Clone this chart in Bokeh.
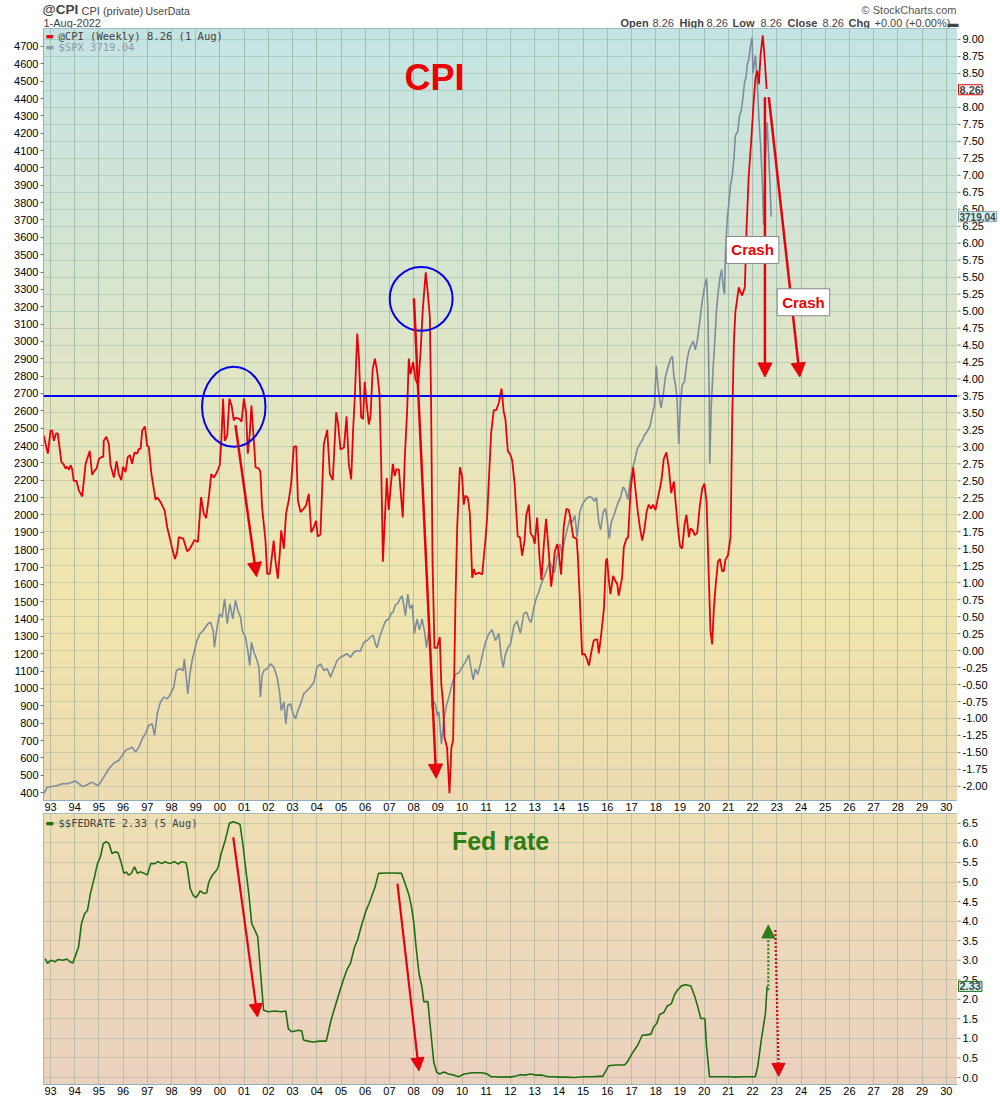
import numpy as np
from bokeh.plotting import figure
from bokeh.models import (Range1d, FixedTicker, Label, Arrow, NormalHead,
                          Span, Grid)
from bokeh.layouts import column, row
from bokeh.core.properties import value
from bokeh.embed import file_html
from bokeh.resources import INLINE

# ---------------- data ----------------
cpi_year = [1992.72, 1992.89, 1993.00, 1993.07, 1993.14, 1993.23, 1993.30, 1993.45, 1993.55, 1993.62,
            1993.69, 1993.76, 1993.83, 1993.89, 1993.96, 1994.07, 1994.17, 1994.31, 1994.45, 1994.62,
            1994.72, 1994.82, 1994.90, 1995.00, 1995.09, 1995.18, 1995.20, 1995.31, 1995.41, 1995.48,
            1995.62, 1995.73, 1995.82, 1995.92, 1996.00, 1996.10, 1996.19, 1996.28, 1996.37, 1996.47,
            1996.58, 1996.65, 1996.72, 1996.79, 1996.90, 1996.99, 1997.06, 1997.17, 1997.34, 1997.41,
            1997.54, 1997.71, 1997.82, 1998.03, 1998.14, 1998.23, 1998.30, 1998.48, 1998.65, 1998.76,
            1998.95, 1999.09, 1999.22, 1999.33, 1999.43, 1999.54, 1999.64, 1999.75, 1999.88, 1999.99,
            2000.05, 2000.13, 2000.20, 2000.30, 2000.39, 2000.48, 2000.57, 2000.64, 2000.82, 2000.89,
            2000.99, 2001.08, 2001.15, 2001.23, 2001.30, 2001.40, 2001.47, 2001.61, 2001.67, 2001.74,
            2001.88, 2001.95, 2002.06, 2002.22, 2002.29, 2002.39, 2002.47, 2002.53, 2002.64, 2002.73,
            2002.84, 2002.94, 2003.05, 2003.15, 2003.22, 2003.33, 2003.46, 2003.56, 2003.67, 2003.77,
            2003.88, 2003.97, 2004.04, 2004.15, 2004.29, 2004.43, 2004.54, 2004.66, 2004.80, 2004.88,
            2004.98, 2005.12, 2005.23, 2005.32, 2005.42, 2005.50, 2005.57, 2005.67, 2005.74, 2005.83,
            2005.91, 2005.98, 2006.05, 2006.15, 2006.22, 2006.31, 2006.40, 2006.49, 2006.59, 2006.66,
            2006.73, 2006.81, 2006.89, 2006.97, 2007.04, 2007.14, 2007.22, 2007.29, 2007.39, 2007.46,
            2007.55, 2007.64, 2007.73, 2007.80, 2007.87, 2007.98, 2008.08, 2008.19, 2008.28, 2008.38,
            2008.50, 2008.59, 2008.67, 2008.72, 2008.78, 2008.86, 2008.97, 2009.08, 2009.14, 2009.22,
            2009.27, 2009.38, 2009.48, 2009.56, 2009.63, 2009.73, 2009.80, 2009.91, 2010.00, 2010.07,
            2010.14, 2010.24, 2010.32, 2010.42, 2010.49, 2010.55, 2010.69, 2010.83, 2010.97, 2011.04,
            2011.10, 2011.20, 2011.31, 2011.41, 2011.52, 2011.63, 2011.72, 2011.79, 2011.89, 2012.00,
            2012.07, 2012.17, 2012.30, 2012.39, 2012.48, 2012.58, 2012.65, 2012.76, 2012.83, 2012.94,
            2013.00, 2013.10, 2013.20, 2013.28, 2013.38, 2013.47, 2013.58, 2013.68, 2013.75, 2013.83,
            2013.93, 2013.99, 2014.09, 2014.20, 2014.31, 2014.41, 2014.48, 2014.59, 2014.73, 2014.78,
            2014.86, 2014.96, 2015.06, 2015.14, 2015.24, 2015.33, 2015.44, 2015.58, 2015.65, 2015.75,
            2015.86, 2015.94, 2015.99, 2016.06, 2016.13, 2016.24, 2016.34, 2016.41, 2016.47, 2016.61,
            2016.68, 2016.79, 2016.86, 2016.96, 2017.07, 2017.16, 2017.26, 2017.34, 2017.44, 2017.53,
            2017.62, 2017.71, 2017.81, 2017.89, 2017.99, 2018.09, 2018.20, 2018.24, 2018.33, 2018.44,
            2018.54, 2018.64, 2018.75, 2018.82, 2018.91, 2019.00, 2019.09, 2019.19, 2019.27, 2019.37,
            2019.44, 2019.53, 2019.61, 2019.71, 2019.82, 2019.92, 2020.01, 2020.10, 2020.17, 2020.26,
            2020.33, 2020.40, 2020.47, 2020.57, 2020.65, 2020.74, 2020.81, 2020.88, 2020.98, 2021.09,
            2021.16, 2021.23, 2021.29, 2021.43, 2021.50, 2021.57, 2021.68, 2021.75, 2021.84, 2021.94,
            2022.05, 2022.12, 2022.19, 2022.26, 2022.33, 2022.42, 2022.49, 2022.58]
cpi_val = [3.17, 2.90, 3.24, 3.24, 3.09, 3.20, 3.20, 2.78, 2.74, 2.68,
           2.71, 2.66, 2.73, 2.68, 2.50, 2.50, 2.36, 2.27, 2.75, 2.94,
           2.59, 2.65, 2.68, 2.82, 2.85, 2.85, 3.09, 3.15, 3.04, 2.73,
           2.55, 2.79, 2.60, 2.51, 2.71, 2.63, 2.85, 2.88, 2.75, 2.92,
           2.90, 2.97, 2.97, 3.24, 3.30, 3.02, 3.00, 2.60, 2.22, 2.26,
           2.19, 2.07, 1.82, 1.50, 1.35, 1.45, 1.67, 1.65, 1.46, 1.50,
           1.63, 1.60, 2.26, 2.02, 1.95, 2.26, 2.60, 2.55, 2.63, 2.73,
           3.04, 3.71, 3.09, 3.17, 3.71, 3.61, 3.39, 3.43, 3.41, 3.37,
           3.71, 3.51, 2.90, 3.19, 3.61, 3.09, 2.70, 2.68, 2.63, 2.11,
           1.62, 1.13, 1.13, 1.62, 1.33, 1.06, 1.43, 1.77, 1.50, 2.02,
           2.21, 2.46, 3.00, 3.01, 2.21, 2.04, 2.09, 2.14, 2.31, 1.74,
           1.82, 1.91, 1.68, 1.71, 3.04, 3.25, 2.60, 2.51, 3.51, 3.34,
           2.96, 2.99, 3.45, 2.75, 2.52, 3.25, 3.73, 4.67, 4.30, 3.44,
           3.41, 3.96, 3.67, 3.33, 3.46, 4.15, 4.30, 4.12, 3.78, 2.73,
           1.31, 1.94, 2.54, 2.07, 2.36, 2.75, 2.57, 2.67, 2.67, 2.36,
           1.96, 2.88, 3.52, 4.30, 4.07, 4.25, 3.99, 3.91, 4.36, 5.04,
           5.57, 5.25, 4.91, 3.67, 1.31, 0.04, 0.04, 0.20, -0.48, -0.80,
           -1.27, -1.43, -2.10, -1.43, -1.32, 0.78, 1.83, 2.70, 2.57, 2.15,
           2.28, 2.25, 2.02, 1.07, 1.20, 1.12, 1.15, 1.12, 1.65, 1.99,
           2.46, 3.20, 3.54, 3.54, 3.65, 3.86, 3.52, 3.41, 2.94, 2.88,
           2.80, 2.46, 1.68, 1.67, 1.40, 1.62, 1.99, 2.15, 1.73, 1.67,
           1.57, 1.96, 1.36, 1.04, 1.57, 1.94, 1.46, 0.94, 1.15, 1.46,
           1.57, 1.46, 1.12, 1.83, 2.09, 2.07, 1.94, 1.67, 1.65, 1.41,
           0.78, -0.06, -0.05, -0.11, -0.22, -0.04, 0.15, 0.17, -0.04, 0.25,
           0.62, 1.31, 1.36, 1.04, 0.83, 1.10, 1.02, 0.98, 0.81, 1.07,
           1.52, 1.65, 1.67, 2.36, 2.70, 2.38, 2.04, 1.83, 1.62, 1.78,
           2.04, 2.15, 2.09, 2.15, 2.07, 2.25, 2.44, 2.52, 2.82, 2.92,
           2.69, 2.32, 2.49, 2.19, 1.83, 1.54, 1.50, 1.86, 2.00, 1.67,
           1.80, 1.77, 1.70, 1.73, 2.13, 2.39, 2.46, 2.19, 1.34, 0.29,
           0.09, 0.62, 0.94, 1.31, 1.35, 1.17, 1.17, 1.34, 1.40, 1.67,
           3.44, 4.56, 4.99, 5.35, 5.28, 5.23, 5.35, 6.20, 6.99, 7.49,
           8.11, 8.44, 8.54, 8.34, 8.77, 9.06, 8.77, 8.27]

spx_year = [1992.72, 1992.86, 1993.07, 1993.28, 1993.48, 1993.69, 1993.89, 1994.03, 1994.17, 1994.31,
            1994.45, 1994.58, 1994.72, 1994.86, 1994.96, 1995.07, 1995.20, 1995.41, 1995.62, 1995.82,
            1995.96, 1996.10, 1996.24, 1996.37, 1996.51, 1996.65, 1996.79, 1996.92, 1997.06, 1997.20,
            1997.30, 1997.41, 1997.54, 1997.68, 1997.82, 1997.96, 1998.09, 1998.20, 1998.34, 1998.48,
            1998.53, 1998.62, 1998.67, 1998.76, 1998.85, 1998.95, 1999.03, 1999.17, 1999.31, 1999.40,
            1999.50, 1999.61, 1999.72, 1999.77, 1999.88, 1999.98, 2000.09, 2000.19, 2000.30, 2000.41,
            2000.53, 2000.64, 2000.74, 2000.85, 2000.92, 2001.05, 2001.15, 2001.23, 2001.30, 2001.40,
            2001.51, 2001.61, 2001.67, 2001.74, 2001.81, 2001.95, 2002.09, 2002.22, 2002.36, 2002.47,
            2002.53, 2002.64, 2002.72, 2002.80, 2002.91, 2003.02, 2003.12, 2003.22, 2003.33, 2003.46,
            2003.60, 2003.74, 2003.88, 2004.01, 2004.15, 2004.29, 2004.43, 2004.57, 2004.70, 2004.84,
            2004.98, 2005.12, 2005.25, 2005.39, 2005.53, 2005.67, 2005.80, 2005.94, 2006.08, 2006.22,
            2006.33, 2006.42, 2006.49, 2006.60, 2006.70, 2006.84, 2006.97, 2007.07, 2007.15, 2007.25,
            2007.35, 2007.46, 2007.52, 2007.59, 2007.66, 2007.76, 2007.84, 2007.94, 2008.03, 2008.14,
            2008.24, 2008.35, 2008.45, 2008.53, 2008.63, 2008.70, 2008.76, 2008.83, 2008.90, 2008.97,
            2009.04, 2009.15, 2009.25, 2009.36, 2009.45, 2009.59, 2009.73, 2009.87, 2010.00, 2010.14,
            2010.28, 2010.35, 2010.46, 2010.55, 2010.65, 2010.76, 2010.87, 2010.97, 2011.11, 2011.24,
            2011.38, 2011.52, 2011.61, 2011.70, 2011.79, 2011.89, 2012.00, 2012.14, 2012.27, 2012.41,
            2012.55, 2012.66, 2012.76, 2012.85, 2012.96, 2013.07, 2013.17, 2013.28, 2013.40, 2013.51,
            2013.62, 2013.72, 2013.82, 2013.93, 2014.04, 2014.13, 2014.23, 2014.34, 2014.45, 2014.55,
            2014.66, 2014.75, 2014.86, 2014.96, 2015.10, 2015.24, 2015.37, 2015.47, 2015.55, 2015.65,
            2015.72, 2015.83, 2015.92, 2015.99, 2016.08, 2016.16, 2016.27, 2016.41, 2016.54, 2016.65,
            2016.75, 2016.85, 2016.93, 2017.03, 2017.12, 2017.23, 2017.34, 2017.44, 2017.53, 2017.64,
            2017.76, 2017.85, 2017.95, 2018.02, 2018.09, 2018.16, 2018.22, 2018.31, 2018.40, 2018.50,
            2018.61, 2018.69, 2018.75, 2018.82, 2018.88, 2018.95, 2019.02, 2019.09, 2019.19, 2019.30,
            2019.38, 2019.46, 2019.55, 2019.63, 2019.71, 2019.81, 2019.92, 2020.01, 2020.10, 2020.15,
            2020.21, 2020.23, 2020.29, 2020.37, 2020.44, 2020.51, 2020.58, 2020.65, 2020.72, 2020.79,
            2020.84, 2020.88, 2020.95, 2021.02, 2021.09, 2021.16, 2021.23, 2021.29, 2021.39, 2021.46,
            2021.53, 2021.60, 2021.67, 2021.73, 2021.78, 2021.84, 2021.91, 2021.98, 2022.02, 2022.08,
            2022.12, 2022.19, 2022.26, 2022.33, 2022.40, 2022.46, 2022.53, 2022.60, 2022.67, 2022.72,
            2022.77]
spx_val = [393, 431, 435, 441, 451, 451, 460, 466, 451, 435,
           441, 451, 460, 447, 441, 460, 489, 537, 570, 585,
           614, 643, 652, 662, 633, 662, 710, 739, 787, 796,
           729, 854, 921, 950, 940, 969, 1008, 1104, 1113, 1104,
           1171, 1046, 969, 1084, 1161, 1219, 1267, 1315, 1334, 1353,
           1373, 1382, 1334, 1238, 1353, 1430, 1411, 1517, 1373, 1488,
           1401, 1507, 1449, 1411, 1334, 1296, 1219, 1132, 1267, 1209,
           1171, 1123, 950, 1075, 1104, 1113, 1142, 1123, 1065, 969,
           873, 921, 796, 902, 912, 854, 825, 873, 912, 969,
           988, 1008, 1036, 1123, 1142, 1104, 1113, 1065, 1113, 1161,
           1180, 1190, 1200, 1180, 1209, 1219, 1214, 1266, 1276, 1297,
           1307, 1256, 1235, 1297, 1338, 1389, 1400, 1431, 1441, 1482,
           1492, 1523, 1533, 1482, 1420, 1544, 1461, 1482, 1317, 1400,
           1338, 1400, 1328, 1235, 1338, 1214, 885, 926, 906, 844,
           865, 679, 823, 906, 947, 1029, 1081, 1091, 1122, 1153,
           1194, 1132, 1050, 1112, 1081, 1142, 1214, 1266, 1317, 1338,
           1276, 1317, 1194, 1122, 1194, 1235, 1256, 1359, 1389, 1317,
           1431, 1441, 1400, 1379, 1462, 1523, 1554, 1606, 1647, 1688,
           1729, 1698, 1667, 1770, 1832, 1770, 1853, 1914, 1976, 1956,
           1997, 1873, 2017, 2058, 2089, 2104, 2100, 2079, 2100, 1956,
           1914, 2017, 2038, 1976, 1863, 1956, 1997, 2058, 2100, 2161,
           2141, 2089, 2182, 2264, 2306, 2378, 2408, 2429, 2460, 2480,
           2511, 2573, 2635, 2861, 2745, 2668, 2617, 2694, 2797, 2848,
           2900, 2913, 2797, 2745, 2668, 2411, 2642, 2745, 2771, 2900,
           2951, 2977, 3002, 2951, 3002, 3105, 3234, 3311, 3363, 3208,
           2668, 2295, 2617, 2848, 3002, 3183, 3286, 3363, 3414, 3311,
           3273, 3517, 3697, 3800, 3903, 3955, 4057, 4186, 4212, 4302,
           4328, 4405, 4495, 4521, 4598, 4623, 4701, 4752, 4546, 4611,
           4649, 4495, 4289, 4135, 3929, 3672, 4057, 4263, 4057, 3903,
           3719]

fed_year = [1992.78, 1992.88, 1993.02, 1993.19, 1993.31, 1993.51, 1993.68, 1993.80, 1993.92, 1994.04,
            1994.16, 1994.28, 1994.41, 1994.53, 1994.65, 1994.82, 1994.94, 1995.06, 1995.18, 1995.30,
            1995.42, 1995.54, 1995.67, 1995.79, 1995.91, 1996.03, 1996.13, 1996.22, 1996.34, 1996.47,
            1996.59, 1996.71, 1996.88, 1997.00, 1997.14, 1997.31, 1997.44, 1997.61, 1997.73, 1997.92,
            1998.11, 1998.28, 1998.41, 1998.60, 1998.65, 1998.77, 1998.89, 1999.01, 1999.08, 1999.18,
            1999.33, 1999.45, 1999.54, 1999.69, 1999.86, 1999.93, 2000.05, 2000.22, 2000.39, 2000.54,
            2000.71, 2000.83, 2000.95, 2001.07, 2001.19, 2001.31, 2001.44, 2001.56, 2001.68, 2001.80,
            2001.99, 2002.28, 2002.53, 2002.72, 2002.82, 2002.96, 2003.25, 2003.38, 2003.45, 2003.62,
            2003.86, 2004.10, 2004.39, 2004.59, 2004.71, 2004.90, 2005.07, 2005.24, 2005.39, 2005.56,
            2005.68, 2005.87, 2006.04, 2006.16, 2006.41, 2006.55, 2006.89, 2007.21, 2007.50, 2007.67,
            2007.81, 2007.91, 2008.01, 2008.10, 2008.22, 2008.34, 2008.42, 2008.59, 2008.66, 2008.83,
            2008.95, 2009.07, 2009.27, 2009.44, 2009.68, 2009.85, 2010.09, 2010.41, 2010.77, 2011.01,
            2011.20, 2011.37, 2011.62, 2011.79, 2011.98, 2012.22, 2012.42, 2012.59, 2012.83, 2013.07,
            2013.31, 2013.56, 2013.80, 2014.04, 2014.28, 2014.65, 2015.01, 2015.38, 2015.62, 2015.81,
            2015.91, 2016.05, 2016.34, 2016.71, 2016.83, 2017.02, 2017.26, 2017.44, 2017.61, 2017.80,
            2017.92, 2018.04, 2018.16, 2018.33, 2018.48, 2018.65, 2018.77, 2018.89, 2019.08, 2019.25,
            2019.45, 2019.62, 2019.74, 2019.86, 2020.03, 2020.10, 2020.22, 2020.42, 2020.71, 2021.07,
            2021.26, 2021.56, 2021.92, 2022.11, 2022.21, 2022.36, 2022.53, 2022.60]
fed_val = [3.04, 2.92, 3.00, 2.96, 3.02, 3.00, 3.03, 2.96, 2.93, 3.13,
           3.34, 3.94, 4.19, 4.28, 4.71, 5.13, 5.47, 5.64, 5.98, 6.03,
           5.98, 5.73, 5.77, 5.75, 5.52, 5.22, 5.26, 5.18, 5.22, 5.39,
           5.22, 5.26, 5.22, 5.18, 5.47, 5.47, 5.52, 5.47, 5.52, 5.47,
           5.52, 5.46, 5.52, 5.49, 5.35, 4.83, 4.66, 4.60, 4.66, 4.77,
           4.71, 4.72, 5.00, 5.18, 5.30, 5.39, 5.73, 6.07, 6.50, 6.54,
           6.51, 6.47, 5.94, 5.30, 4.71, 3.94, 3.77, 3.60, 2.66, 1.72,
           1.68, 1.70, 1.68, 1.70, 1.25, 1.17, 1.21, 1.19, 0.96, 0.93,
           0.91, 0.93, 0.93, 1.47, 1.72, 2.11, 2.45, 2.75, 2.92, 3.34,
           3.51, 3.94, 4.28, 4.45, 4.88, 5.22, 5.23, 5.23, 5.22, 4.92,
           4.66, 4.37, 3.94, 3.34, 2.66, 2.32, 1.94, 1.94, 1.47, 0.40,
           0.14, 0.09, 0.14, 0.09, 0.06, 0.02, 0.09, 0.12, 0.12, 0.10,
           0.02, 0.02, 0.01, 0.02, 0.01, 0.04, 0.07, 0.06, 0.09, 0.06,
           0.06, 0.02, 0.02, 0.01, 0.01, 0.00, 0.02, 0.02, 0.03, 0.03,
           0.14, 0.30, 0.32, 0.32, 0.40, 0.61, 0.83, 1.08, 1.09, 1.11,
           1.30, 1.38, 1.61, 1.66, 1.83, 1.89, 2.11, 2.23, 2.35, 2.37,
           2.34, 2.06, 1.80, 1.51, 1.51, 0.78, 0.02, 0.02, 0.02, 0.02,
           0.01, 0.02, 0.02, 0.02, 0.27, 0.96, 1.64, 2.33]

year_ticks = list(range(1993, 2031))
spx_ticks = list(range(400, 4701, 100))
cpi_ticks = [round(-2 + 0.25 * i, 2) for i in range(45)]
fed_ticks = [round(0.5 * i, 1) for i in range(14)]

# ---------------- layout constants ----------------
X0, X1 = 1992.711, 2030.464
SPX0, SPX1 = 354.2, 4803.7
CPI0, CPI1 = -2.208, 9.162
FED0, FED1 = -0.179, 6.752
FONT = "Liberation Sans"
MONO = "DejaVu Sans Mono"
RED = "#e8000b"
GRID = "#86a391"
BORDER = "#93b0bf"
TOP_H = 772
BOT_H = 271
STRIP_W = 43


def gradient(stops, n=240):
    pos = np.array([s[0] for s in stops])
    cols = np.array([s[1] for s in stops], dtype=float)
    t = np.linspace(1, 0, n)  # row 0 = bottom
    img = np.empty((n, 1), dtype=np.uint32)
    v = img.view(dtype=np.uint8).reshape((n, 1, 4))
    for c in range(3):
        v[:, 0, c] = np.interp(t, pos, cols[:, c]).astype(np.uint8)
    v[:, 0, 3] = 255
    return img


def style_axis(ax):
    ax.major_label_text_font = FONT
    ax.major_label_text_font_size = "11px"
    ax.major_label_text_color = "#000000"
    ax.axis_line_color = BORDER
    ax.major_tick_line_color = "#777777"
    ax.minor_tick_line_color = None
    ax.major_tick_in = 0


def style_xaxis(ax):
    style_axis(ax)
    ax.ticker = FixedTicker(ticks=year_ticks)
    ax.major_label_overrides = {y: "%02d" % (y % 100) for y in year_ticks}
    ax.major_tick_out = 0
    ax.major_label_standoff = 2


def frame_label(fig, yend, ytop_px, px, py, text, **kw):
    """Text placed relative to the top-left corner of a frame (pixel offsets)."""
    kw.setdefault("text_font", FONT)
    kw.setdefault("text_font_size", "11px")
    kw.setdefault("text_baseline", "middle")
    fig.add_layout(Label(x=X0, y=yend, x_offset=px - 43, y_offset=-(py - ytop_px),
                         text=text, **kw))


# ---------------- header strip ----------------
hdr = figure(width=1000, height=28, x_range=Range1d(0, 1000), y_range=Range1d(28, 0),
             x_axis_type=None, y_axis_type=None, output_backend="svg", toolbar_location=None,
             min_border_left=0, min_border_right=0, min_border_top=0, min_border_bottom=0,
             background_fill_color="#ffffff", border_fill_color="#ffffff")
hdr.outline_line_color = None
hdr.xgrid.visible = False
hdr.ygrid.visible = False


def hlabel(px, py, text, **kw):
    kw.setdefault("text_font", FONT)
    kw.setdefault("text_font_size", "11px")
    kw.setdefault("text_baseline", "middle")
    hdr.add_layout(Label(x=px, y=py, text=text, **kw))


hlabel(42, 9, "@CPI", text_font_style="bold", text_font_size="13.5px")
hlabel(81, 10, "CPI (private)", text_font_size="11px")
hlabel(145, 10, "UserData", text_font_size="10.5px")
hlabel(43, 22, "1-Aug-2022")
hlabel(956, 9, "\u00a9 StockCharts.com", text_align="right", text_color="#555555")
hdr_parts = [(620, "Open", "bold"), (652, "8.26", "normal"), (679, "High", "bold"),
             (706, "8.26", "normal"), (732, "Low", "bold"), (760, "8.26", "normal"),
             (787, "Close", "bold"), (822, "8.26", "normal"), (848, "Chg", "bold"),
             (874, "+0.00 (+0.00%)", "normal"), (947, "\u25ac", "bold")]
for hx, htxt, hst in hdr_parts:
    hlabel(hx, 22, htxt, text_font_style=hst, text_font_size="11px")

# ---------------- top panel ----------------
p = figure(frame_width=914, frame_height=TOP_H, x_range=Range1d(X0, X1),
           y_range=Range1d(SPX0, SPX1), output_backend="svg", toolbar_location=None,
           min_border_left=43, min_border_right=0, min_border_top=0, min_border_bottom=13,
           background_fill_color="#ffffff", border_fill_color="#ffffff")
cpi_range = Range1d(CPI0, CPI1)
p.extra_y_ranges = {"cpi": cpi_range}
p.outline_line_color = BORDER

top_grad = gradient([(0.0, (196, 228, 228)), (0.3, (214, 229, 210)), (0.55, (232, 229, 188)),
                     (0.75, (241, 230, 174)), (1.0, (237, 219, 178))])
p.image_rgba(image=[top_grad], x=X0, y=SPX0, dw=X1 - X0, dh=SPX1 - SPX0, level="image")

style_xaxis(p.xaxis[0])
yl = p.yaxis[0]
style_axis(yl)
yl.ticker = FixedTicker(ticks=spx_ticks)
yl.major_tick_out = 3
yl.major_label_standoff = 2

p.xgrid.grid_line_color = GRID
p.xgrid.grid_line_alpha = 0.55
p.ygrid.visible = False
p.add_layout(Grid(dimension=1, ticker=FixedTicker(ticks=cpi_ticks), y_range_name="cpi",
                  grid_line_color=GRID, grid_line_alpha=0.35))

p.line(spx_year, spx_val, line_color="#7c8c9c", line_width=1.6)
p.line(cpi_year, cpi_val, line_color=RED, line_width=1.8, y_range_name="cpi")

p.add_layout(Span(location=3.75, dimension="width", y_range_name="cpi",
                  line_color="#0000ee", line_width=2))
p.ellipse(x=[2000.57, 2008.31], y=[3.59, 5.18], width=[2.62, 2.6], height=[1.18, 0.94],
          fill_color=None, line_color="#0000ee", line_width=2, y_range_name="cpi")

cpi_arrows = [(2000.64, 3.32, 2001.51, 1.09), (2008.01, 5.19, 2008.93, -1.88),
              (2022.51, 8.15, 2022.51, 4.03), (2022.67, 8.15, 2023.95, 4.03)]
for xs, ys, xe, ye in cpi_arrows:
    p.add_layout(Arrow(end=NormalHead(size=14, fill_color=RED, line_color=RED),
                       x_start=xs, y_start=ys, x_end=xe, y_end=ye, y_range_name="cpi",
                       line_color=RED, line_width=2.5))

p.add_layout(Label(x=2008.86, y=8.44, y_range_name="cpi", text="CPI", text_color="#ee0000",
                   text_font=FONT, text_font_style="bold", text_font_size="36px",
                   text_align="center", text_baseline="middle"))
for cx, cy in [(2022.0, 5.90), (2024.1, 5.13)]:
    p.add_layout(Label(x=cx, y=cy, y_range_name="cpi", text="Crash", text_color="#ee0000",
                       text_font=FONT, text_font_style="bold", text_font_size="15px",
                       text_align="center", text_baseline="middle",
                       background_fill_color="#ffffff", border_line_color="#888888",
                       padding=5))

# in-plot legend
frame_label(p, SPX1, 28, 45, 35, "\u25ac", text_color=RED, text_font="DejaVu Sans", text_font_size="9px")
frame_label(p, SPX1, 28, 58, 35, "@CPI (Weekly) 8.26 (1 Aug)", text_font=MONO, text_font_size="10.5px")
frame_label(p, SPX1, 28, 45, 46, "\u25ac", text_color="#8a9aa8", text_font="DejaVu Sans", text_font_size="9px")
frame_label(p, SPX1, 28, 58, 46, "$SPX 3719.04", text_font=MONO, text_font_size="10.5px",
            text_color="#8a9aa8")


def right_strip(yrange, ticks, fmt, height, extra=None):
    s = figure(width=STRIP_W, frame_width=STRIP_W, frame_height=height,
               x_range=Range1d(0, STRIP_W), y_range=yrange,
               x_axis_type=None, y_axis_type=None, output_backend="svg", toolbar_location=None,
               min_border_left=0, min_border_right=0, min_border_top=0, min_border_bottom=13,
               background_fill_color="#ffffff", border_fill_color="#ffffff")
    if extra:
        s.extra_y_ranges = extra
    s.outline_line_color = None
    s.xgrid.visible = False
    s.ygrid.visible = False
    labels = [fmt % t for t in ticks]
    s.segment(x0=[0] * len(ticks), x1=[3] * len(ticks), y0=ticks, y1=ticks,
              line_color="#777777", line_width=1)
    s.text(x=[5] * len(ticks), y=ticks, text=labels, text_font=value(FONT),
           text_font_size=value("11px"), text_baseline="middle", text_align="left",
           text_color="#000000")
    return s


pr = right_strip(cpi_range, cpi_ticks, "%.2f", TOP_H, extra={"spx": p.y_range})
pr.add_layout(Label(x=0, y=8.26, text="8.26", x_offset=1,
                    text_font=FONT, text_font_style="bold", text_font_size="11px",
                    text_baseline="middle", background_fill_color="#ffffff",
                    border_line_color="#dd0000", padding=1))
pr.add_layout(Label(x=0, y=3719.04, y_range_name="spx", text="3719.04", x_offset=1,
                    text_font=FONT, text_font_style="bold", text_font_size="10px",
                    text_baseline="middle", background_fill_color="#d2f3f3",
                    border_line_color="#8a9aa8", padding=1))

# ---------------- bottom panel ----------------
q = figure(frame_width=914, frame_height=BOT_H, x_range=p.x_range,
           y_range=Range1d(FED0, FED1), output_backend="svg", toolbar_location=None,
           y_axis_type=None,
           min_border_left=43, min_border_right=0, min_border_top=0, min_border_bottom=13,
           background_fill_color="#ffffff", border_fill_color="#ffffff")
q.outline_line_color = BORDER
bot_grad = gradient([(0.0, (239, 223, 180)), (1.0, (235, 210, 192))])
q.image_rgba(image=[bot_grad], x=X0, y=FED0, dw=X1 - X0, dh=FED1 - FED0, level="image")

style_xaxis(q.xaxis[0])
q.xgrid.grid_line_color = GRID
q.xgrid.grid_line_alpha = 0.45
q.ygrid.visible = False
q.add_layout(Grid(dimension=1, ticker=FixedTicker(ticks=fed_ticks),
                  grid_line_color=GRID, grid_line_alpha=0.35))

q.line(fed_year, fed_val, line_color="#1f6e12", line_width=1.6)

fed_arrows = [(2000.55, 6.14, 2001.55, 1.55, RED, "solid"),
              (2007.33, 4.96, 2008.22, 0.17, RED, "solid"),
              (2022.65, 2.23, 2022.65, 3.90, "#2d7d1a", "2 2"),
              (2022.94, 3.77, 2023.08, 0.03, RED, "2 2")]
for xs, ys, xe, ye, col, dash in fed_arrows:
    q.add_layout(Arrow(end=NormalHead(size=13, fill_color=col, line_color=col),
                       x_start=xs, y_start=ys, x_end=xe, y_end=ye,
                       line_color=col, line_width=2.2, line_dash=dash))

q.add_layout(Label(x=2011.59, y=6.04, text="Fed rate", text_color="#2e7d12",
                   text_font=FONT, text_font_style="bold", text_font_size="25px",
                   text_align="center", text_baseline="middle"))
frame_label(q, FED1, 813, 45, 822, "\u25ac", text_color="#1f6e12", text_font="DejaVu Sans",
            text_font_size="9px")
frame_label(q, FED1, 813, 58, 822, "$$FEDRATE 2.33 (5 Aug)", text_font=MONO, text_font_size="10.5px")

qr = right_strip(q.y_range, fed_ticks, "%.1f", BOT_H)
qr.add_layout(Label(x=0, y=2.33, text="2.33", x_offset=1,
                    text_font=FONT, text_font_style="bold", text_font_size="11px",
                    text_baseline="middle", background_fill_color="#d2f3f3",
                    border_line_color="#1f6e12", padding=1))

layout = column(hdr, row(p, pr, spacing=0), row(q, qr, spacing=0), spacing=0)
open("out.html", "w").write(file_html(layout, INLINE))
